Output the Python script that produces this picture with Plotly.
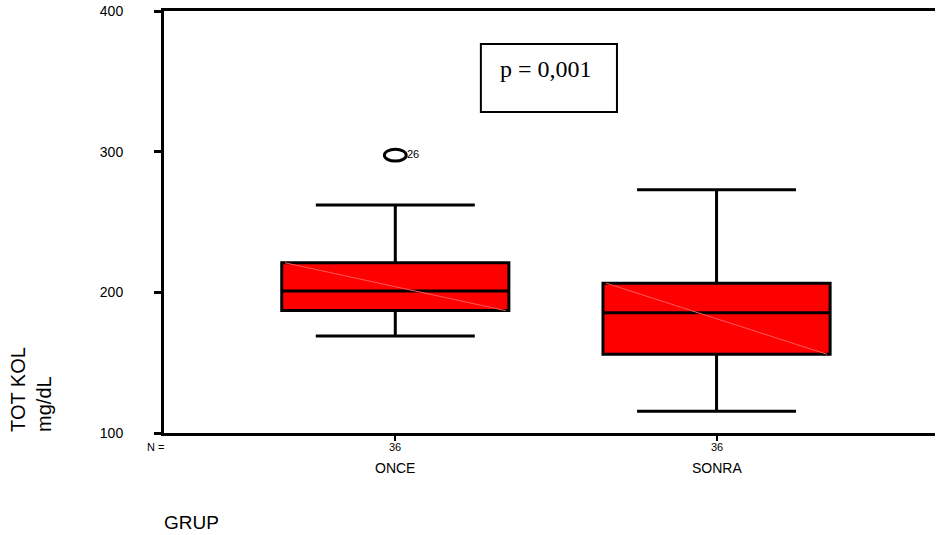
import plotly.graph_objects as go

# ---- data ----
groups = ["ONCE", "SONRA"]
n_values = [36, 36]
q1 = [187, 156]
median = [201, 185.5]
q3 = [221, 206.5]
lower_whisker = [169, 115.5]
upper_whisker = [262, 273]
outlier_group = ["ONCE"]
outlier_value = [297.5]
outlier_label = ["26"]
y_ticks = [100, 200, 300, 400]
p_text = "p = 0,001"

FONT = "Liberation Sans, Arial, sans-serif"
BOX_W = 0.707

fig = go.Figure()
for i, g in enumerate(groups):
    fig.add_trace(go.Box(
        x=[g], q1=[q1[i]], median=[median[i]], q3=[q3[i]],
        lowerfence=[lower_whisker[i]], upperfence=[upper_whisker[i]],
        fillcolor="#ff0000", line=dict(color="black", width=3),
        width=BOX_W, whiskerwidth=0.7, boxpoints=False,
        showlegend=False, hoverinfo="skip",
    ))

# faint diagonal across each box (corner to corner)
for i, g in enumerate(groups):
    fig.add_shape(type="line", xref="x", yref="y",
                  x0=i - BOX_W / 2 + 0.01, y0=q3[i], x1=i + BOX_W / 2 - 0.01, y1=q1[i],
                  line=dict(color="#ff5a5a", width=1), layer="above")

# outliers (open ellipses) with case labels
for g, v, lab in zip(outlier_group, outlier_value, outlier_label):
    xi = groups.index(g)
    fig.add_shape(type="circle", xref="x", yref="y",
                  x0=xi - 0.034, x1=xi + 0.034, y0=v - 4.2, y1=v + 4.2,
                  line=dict(color="black", width=3), fillcolor="white", layer="above")
    fig.add_annotation(x=xi, y=v, xref="x", yref="y", text=lab, showarrow=False,
                       xanchor="left", yanchor="middle", xshift=10, yshift=1,
                       font=dict(family=FONT, size=11, color="black"))

# N and group labels under the axis
for g, n in zip(groups, n_values):
    fig.add_annotation(x=g, y=-0.033, xref="x", yref="paper", text=str(n),
                       showarrow=False, xanchor="center", yanchor="middle",
                       font=dict(family=FONT, size=11, color="black"))
    fig.add_annotation(x=g, y=-0.083, xref="x", yref="paper", text=g,
                       showarrow=False, xanchor="center", yanchor="middle",
                       font=dict(family=FONT, size=14, color="black"))

fig.add_annotation(x=0.003, y=-0.033, xref="paper", yref="paper", text="N =",
                   showarrow=False, xanchor="right", yanchor="middle",
                   font=dict(family=FONT, size=11, color="black"))
fig.add_annotation(x=-0.002, y=-0.211, xref="paper", yref="paper", text="GRUP",
                   showarrow=False, xanchor="left", yanchor="middle",
                   font=dict(family=FONT, size=19, color="black"))
fig.add_annotation(x=-0.1725, y=0.102, xref="paper", yref="paper",
                   text="TOT KOL<br>mg/dL", textangle=-90, align="left",
                   showarrow=False, xanchor="center", yanchor="middle",
                   font=dict(family=FONT, size=20, color="black"))

# p-value box
fig.add_shape(type="rect", xref="paper", yref="paper",
              x0=0.411, x1=0.5875, y0=0.7607, y1=0.9218,
              line=dict(color="black", width=2), fillcolor="white", layer="above")
fig.add_annotation(x=0.496, y=0.862, xref="paper", yref="paper", text=p_text,
                   showarrow=False, xanchor="center", yanchor="middle",
                   font=dict(family="Liberation Serif, Times New Roman, serif", size=24, color="black"))

fig.update_xaxes(type="category", categoryorder="array", categoryarray=groups,
                 range=[-0.72, 1.68], showgrid=False, zeroline=False,
                 showline=True, linecolor="black", linewidth=3, mirror=True,
                 ticks="outside", ticklen=5, tickwidth=2, tickcolor="black",
                 showticklabels=False)
fig.update_yaxes(range=[100, 400], tickvals=y_ticks, showgrid=False, zeroline=False,
                 showline=True, linecolor="black", linewidth=3,
                 ticks="outside", ticklen=7, tickwidth=3, tickcolor="black",
                 ticklabelstandoff=28,
                 tickfont=dict(family=FONT, size=14, color="black"))

fig.update_layout(width=937, height=535,
                  margin=dict(l=164, r=2, t=11, b=102),
                  plot_bgcolor="white", paper_bgcolor="white",
                  showlegend=False)

fig.write_html("out.html", config={"displayModeBar": False, "staticPlot": True},
               post_script="document.body.style.margin='0px';document.body.style.overflow='hidden';")
